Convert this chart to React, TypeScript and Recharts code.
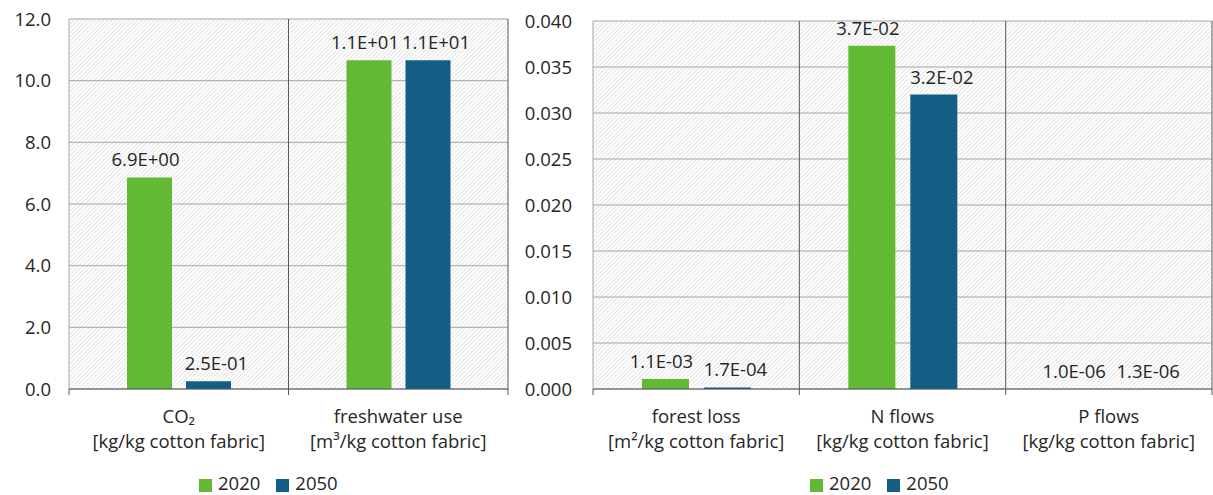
import {
  BarChart,
  Bar,
  XAxis,
  YAxis,
  CartesianGrid,
  Legend,
  LabelList,
} from 'recharts';

// left panel
const leftNames = ['CO₂', 'freshwater use'];
const leftUnits = ['[kg/kg cotton fabric]', '[m³/kg cotton fabric]'];
const left2020 = [6.86, 10.66];
const left2050 = [0.25, 10.66];
const leftTicks = [0, 2, 4, 6, 8, 10, 12];

// right panel
const rightNames = ['forest loss', 'N flows', 'P flows'];
const rightUnits = ['[m²/kg cotton fabric]', '[kg/kg cotton fabric]', '[kg/kg cotton fabric]'];
const right2020 = [0.0011, 0.0373, 0.000001];
const right2050 = [0.00017, 0.032, 0.0000013];
const rightTicks = [0, 0.005, 0.01, 0.015, 0.02, 0.025, 0.03, 0.035, 0.04];

const GREEN = '#62b933';
const BLUE = '#135e85';
const TEXT = '#262626';
const FONT = 18.5;

const H = 495;
const MB = 46;
const XH = 60;
const AXIS_Y = H - MB - XH;

const sci = (v: number) => {
  const [m, e] = v.toExponential(1).split('e');
  const n = parseInt(e, 10);
  return `${m}E${n < 0 ? '-' : '+'}${String(Math.abs(n)).padStart(2, '0')}`;
};

function makeTick(names: string[], units: string[], band: number) {
  return (props: any) => {
    const { x, index } = props;
    const marks = [x + band / 2];
    if (index === 0) marks.push(x - band / 2);
    return (
      <g>
        {marks.map((mx) => (
          <line key={mx} x1={mx} x2={mx} y1={AXIS_Y} y2={AXIS_Y + 6} stroke="#595959" />
        ))}
        <text x={x} y={AXIS_Y + 34} textAnchor="middle" fill={TEXT} fontSize={FONT}>
          {names[index]}
        </text>
        <text x={x} y={AXIS_Y + 59} textAnchor="middle" fill={TEXT} fontSize={FONT}>
          {units[index]}
        </text>
      </g>
    );
  };
}

function valueLabel(dx: number) {
  return (p: any) => (
    <text
      x={Number(p.x) + Number(p.width) / 2 + dx}
      y={Number(p.y) - 11}
      textAnchor="middle"
      fill={TEXT}
      fontSize={FONT}
    >
      {sci(Number(p.value))}
    </text>
  );
}

function Hatch({ id }: { id: string }) {
  return (
    <defs>
      <pattern id={id} width={3} height={3} patternUnits="userSpaceOnUse" patternTransform="rotate(45)">
        <rect width={3} height={3} fill="#ffffff" />
        <line x1={0} y1={0} x2={0} y2={3} stroke="#cecece" strokeWidth={1.1} />
      </pattern>
    </defs>
  );
}

interface PanelProps {
  id: string;
  left: number;
  width: number;
  margin: { top: number; right: number; left: number; bottom: number };
  yWidth: number;
  tickMargin: number;
  names: string[];
  units: string[];
  s2020: number[];
  s2050: number[];
  ticks: number[];
  digits: number;
  barSize: number;
  barGap: number;
  legendLeft: number;
}

function Panel(p: PanelProps) {
  const data = p.names.map((n, i) => ({ name: n, v2020: p.s2020[i], v2050: p.s2050[i] }));
  const plotW = p.width - p.margin.left - p.margin.right - p.yWidth;
  const band = plotW / p.names.length;
  return (
    <div style={{ position: 'absolute', left: p.left, top: 0 }}>
      <BarChart
        width={p.width}
        height={H}
        data={data}
        margin={p.margin}
        barSize={p.barSize}
        barGap={p.barGap}
      >
        <Hatch id={p.id} />
        <CartesianGrid vertical={false} stroke="#a6a6a6" fill={`url(#${p.id})`} fillOpacity={1} />
        <CartesianGrid
          horizontal={false}
          stroke="#595959"
          verticalCoordinatesGenerator={({ offset }: any) =>
            p.names.map((_, i) => offset.left + (offset.width * (i + 1)) / p.names.length)
          }
        />
        <XAxis
          dataKey="name"
          height={XH}
          axisLine={{ stroke: '#595959' }}
          tickLine={false}
          tick={makeTick(p.names, p.units, band)}
          interval={0}
        />
        <YAxis
          width={p.yWidth}
          domain={[p.ticks[0], p.ticks[p.ticks.length - 1]]}
          ticks={p.ticks}
          interval={0}
          axisLine={{ stroke: '#a6a6a6' }}
          tickLine={false}
          tickSize={6}
          tickMargin={p.tickMargin}
          tick={{ fill: TEXT, fontSize: FONT }}
          tickFormatter={(v: number) => v.toFixed(p.digits)}
        />
        <Legend
          layout="horizontal"
          verticalAlign="middle"
          align="center"
          iconType="square"
          iconSize={13}
          wrapperStyle={{ top: 470, left: p.legendLeft, width: 'auto', fontSize: FONT }}
          formatter={(v: string) => <span style={{ color: TEXT, marginLeft: 2, marginRight: 6 }}>{v}</span>}
        />
        <Bar dataKey="v2020" name="2020" fill={GREEN} isAnimationActive={false}>
          <LabelList dataKey="v2020" content={valueLabel(-4)} />
        </Bar>
        <Bar dataKey="v2050" name="2050" fill={BLUE} isAnimationActive={false}>
          <LabelList dataKey="v2050" content={valueLabel(8)} />
        </Bar>
      </BarChart>
    </div>
  );
}

export default function App() {
  return (
    <div
      style={{
        position: 'absolute',
        left: 0,
        top: 0,
        width: 1213,
        height: H,
        background: '#ffffff',
        fontFamily: '"Open Sans", "Noto Sans", sans-serif',
      }}
    >
      <Panel
        id="hatchL"
        left={0}
        width={520}
        margin={{ top: 19, right: 12, left: 9, bottom: MB }}
        yWidth={60}
        tickMargin={12}
        names={leftNames}
        units={leftUnits}
        s2020={left2020}
        s2050={left2050}
        ticks={leftTicks}
        digits={1}
        barSize={45}
        barGap={14}
        legendLeft={199}
      />
      <Panel
        id="hatchR"
        left={520}
        width={693}
        margin={{ top: 21, right: 1, left: 9, bottom: MB }}
        yWidth={64}
        tickMargin={15}
        names={rightNames}
        units={rightUnits}
        s2020={right2020}
        s2050={right2050}
        ticks={rightTicks}
        digits={3}
        barSize={47}
        barGap={15}
        legendLeft={290}
      />
    </div>
  );
}
